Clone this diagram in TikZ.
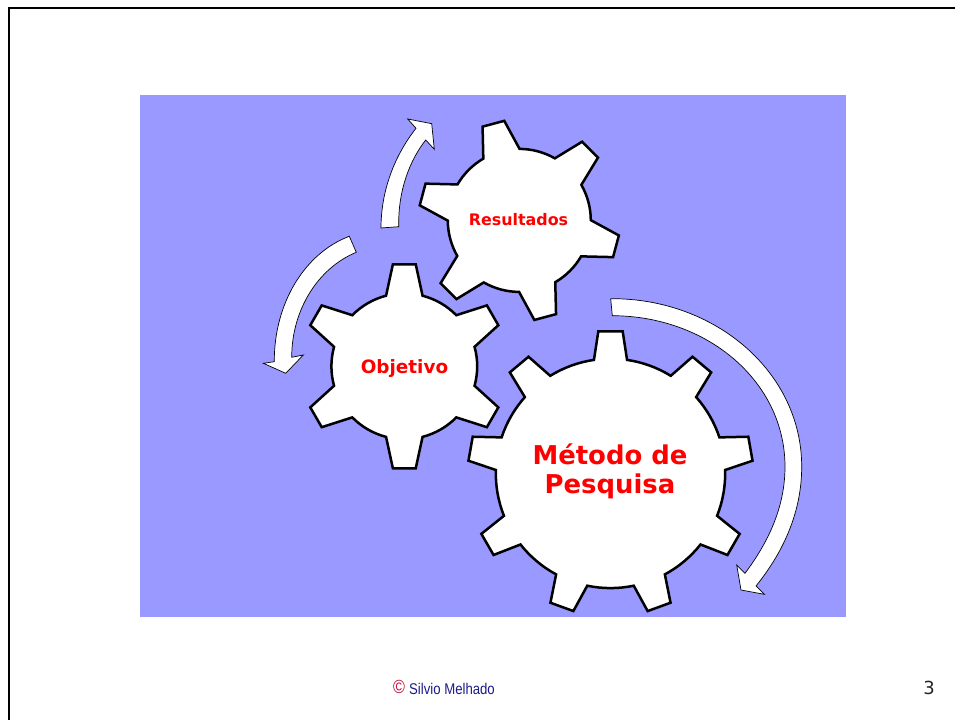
\documentclass[tikz,border=0pt]{standalone}
\usepackage{fontspec}
\usepackage{graphicx}
\setmainfont{DejaVu Sans}
\newfontfamily\footfont{Liberation Sans}
\definecolor{panel}{HTML}{9999FF}
\definecolor{footblue}{HTML}{1C1C8C}
\definecolor{footred}{HTML}{C01040}
\tikzset{
  x=1pt,y=1pt,
  gearshape/.style={draw=black,fill=white,line width=2.5pt,miter limit=10},
  flowarrow/.style={draw=black,fill=white,line width=0.7pt,line join=miter},
  geartext/.style={text=red,font=\bfseries,align=center,inner sep=0pt},
  resulttext/.style={geartext,font=\fontsize{15.9pt}{19pt}\selectfont\bfseries},
  objtext/.style={geartext,font=\fontsize{18.4pt}{22pt}\selectfont\bfseries},
  biggear/.style={geartext,font=\fontsize{25.9pt}{29pt}\selectfont\bfseries},
}
% centre x, centre y (from top), root r, tip r, teeth, first tooth angle, base half-angle, tip half-angle
\newcommand{\gearat}[8]{%
  \pgfmathsetmacro{\gstep}{360/#5}%
  \begin{scope}[shift={(#1,720-#2)}]
    \draw[gearshape] (#6-#7:#3)
      \foreach \k in {1,...,#5}{
        -- ({#6+(\k-1)*\gstep-#8}:#4)
        -- ({#6+(\k-1)*\gstep+#8}:#4)
        -- ({#6+(\k-1)*\gstep+#7}:#3)
        arc[start angle={#6+(\k-1)*\gstep+#7},end angle={#6+\k*\gstep-#7},radius=#3]
      } -- cycle;
  \end{scope}%
}
\begin{document}
\begin{tikzpicture}
\useasboundingbox (0,0) rectangle (955,720);
\fill[white] (0,0) rectangle (955,720);
\draw[black,line width=2.4pt] (9,0) -- (9,712) -- (955,712);
\fill[panel] (140,103) rectangle (846,625);
\gearat{404.3}{366.3}{72.9}{102.6}{6}{90}{14.5}{6.4}
\gearat{519.3}{220.4}{71.5}{100.7}{6}{45}{15.2}{6.4}
\gearat{610.5}{473.4}{114.7}{142.6}{9}{90}{8.3}{4.9}
\begin{scope}[yshift=720pt,y=-1pt]
  \draw[flowarrow] (381,228) .. controls (381,190) and (395,155) .. (416,128.3)
    -- (407.7,119) -- (431.7,123.7) -- (434.3,149.3) -- (425.7,140)
    .. controls (410,160) and (398,190) .. (398.7,226.7) -- cycle;
  \draw[flowarrow] (349.3,236.3) .. controls (305,253) and (274,303) .. (274.3,361.7)
    -- (263.3,363.3) -- (285.7,373.3) -- (303.3,355) -- (291.7,357.3)
    .. controls (291.7,310) and (318,268) .. (356.3,252.3) -- cycle;
  \draw[flowarrow] (610.7,298.7) .. controls (715,298) and (801.7,372) .. (801.7,466.7)
    .. controls (801.7,510) and (785,550) .. (756,586)
    -- (764.3,594.3) -- (741,590) -- (736.7,565) -- (745,573.3)
    .. controls (770,540) and (785,505) .. (785,466.7)
    .. controls (785,382) and (708,316) .. (612.3,315.7) -- cycle;
  \node[resulttext] (resultados) at (518.5,220) {Resultados};
  \node[objtext] (objetivo) at (404.5,368) {Objetivo};
  \node[biggear] (metodo) at (610,471.8) {Método de\\Pesquisa};
  \node[inner sep=0pt,text=footred,font=\footfont\fontsize{19pt}{20pt}\selectfont] (copyr) at (399,686.5) {\scalebox{0.85}[1]{©}};
  \node[inner sep=0pt,text=footblue,font=\footfont\fontsize{15.5pt}{18pt}\selectfont] (author) at (452,688.5) {\scalebox{0.85}[1]{Silvio Melhado}};
  \node[inner sep=0pt,text=black!85,font=\fontsize{18pt}{22pt}\selectfont] (pagenum) at (929,688) {3};
\end{scope}
\end{tikzpicture}
\end{document}
